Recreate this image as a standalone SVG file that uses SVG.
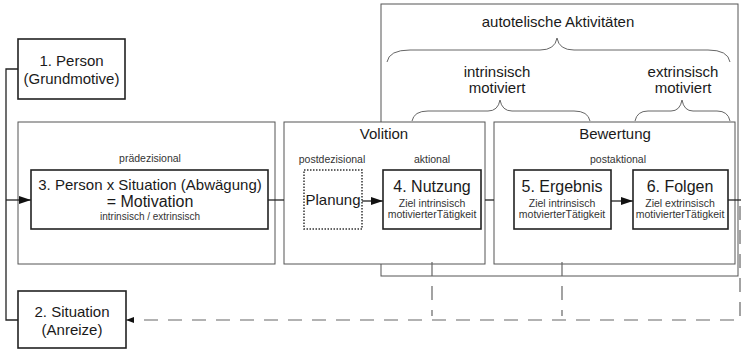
<svg xmlns="http://www.w3.org/2000/svg" width="741" height="350" viewBox="0 0 741 350">
  <style>
    text { font-family: "Liberation Sans", Arial, sans-serif; fill: #1a1a1a; text-anchor: middle; }
    .t15 { font-size: 15px; }
    .t16 { font-size: 16px; }
    .t10 { font-size: 10.5px; fill: #333; }
    .t10s { font-size: 10px; fill: #333; }
    .phase { fill: #fff; stroke: #555; stroke-width: 1; }
    .box { fill: #fff; stroke: #222; stroke-width: 1.6; }
    .dotted { fill: #fff; stroke: #333; stroke-width: 1.5; stroke-dasharray: 1.5 1.5; }
    .frame { fill: none; stroke: #555; stroke-width: 1; }
    .brace { fill: none; stroke: #666; stroke-width: 1; }
    .line { fill: none; stroke: #222; stroke-width: 1.3; }
    .dash { fill: none; stroke: #666; stroke-width: 1.2; stroke-dasharray: 14 10; }
  </style>
  <defs>
    <marker id="arrow" viewBox="0 0 12 8" refX="12" refY="4" markerWidth="12" markerHeight="8" markerUnits="userSpaceOnUse" orient="auto">
      <path d="M0,0 L12,4 L0,8 Z" fill="#111"/>
    </marker>
    <marker id="arrowSmall" viewBox="0 0 8 6" refX="8" refY="3" markerWidth="8" markerHeight="6" markerUnits="userSpaceOnUse" orient="auto">
      <path d="M0,0 L8,3 L0,6 Z" fill="#111"/>
    </marker>
  </defs>

  <!-- frame: autotelic activities with braces -->
  <g id="autotelisch">
    <rect class="frame" x="381" y="4" width="357" height="272"/>
    <text class="t15" x="558" y="27">autotelische Aktivitäten</text>
    <path class="brace" d="M387,62 Q389,50 410,50 L540,50 Q555,50 557,38 Q559,50 574,50 L708,50 Q728,50 730,62"/>
    <text class="t15" x="497" y="77">intrinsisch</text>
    <text class="t15" x="497" y="93">motiviert</text>
    <path class="brace" d="M412,121 Q414,111 428,111 L488,111 Q498,111 500,100 Q502,111 512,111 L574,111 Q588,111 590,121"/>
    <text class="t15" x="683" y="77">extrinsisch</text>
    <text class="t15" x="683" y="93">motiviert</text>
    <path class="brace" d="M635,121 Q637,111 648,111 L671,111 Q680,111 682,100 Q684,111 693,111 L717,111 Q728,111 730,121"/>
  </g>

  <!-- phases -->
  <g id="praedezisional">
    <rect class="phase" x="18" y="122" width="257" height="142"/>
    <text class="t10" x="150" y="162">prädezisional</text>
  </g>
  <g id="volition">
    <rect class="phase" x="284" y="122" width="201" height="142"/>
    <text class="t15" x="384" y="139">Volition</text>
    <text class="t10" x="332" y="163">postdezisional</text>
    <text class="t10" x="432" y="163">aktional</text>
  </g>
  <g id="bewertung">
    <rect class="phase" x="494" y="122" width="241" height="142"/>
    <text class="t15" x="615" y="139">Bewertung</text>
    <text class="t10" x="618" y="163">postaktional</text>
  </g>

  <!-- connectors -->
  <g id="connectors">
    <path class="line" d="M18,69 H6 V320 H18"/>
    <path class="line" d="M6,200 H31" marker-end="url(#arrow)"/>
    <path class="line" d="M268,200 H284"/>
    <path class="line" d="M485,200 H494"/>
    <path class="line" d="M728,200 H741"/>
    <path class="line" d="M362,201 H383" marker-end="url(#arrow)"/>
    <path class="line" d="M611,201 H633" marker-end="url(#arrow)"/>
    <path class="dash" d="M740,206 V320 H126" marker-end="url(#arrowSmall)"/>
    <path class="dash" d="M432,262 V316" stroke-dasharray="14 6"/>
    <path class="dash" d="M562,262 V316" stroke-dasharray="14 6"/>
  </g>

  <!-- activity boxes -->
  <g id="abwaegung">
    <rect class="box" x="31" y="170" width="237" height="59"/>
    <text class="t15" x="150" y="190">3. Person x Situation (Abwägung)</text>
    <text class="t16" x="150" y="207">= Motivation</text>
    <text class="t10s" x="150" y="220">intrinsisch / extrinsisch</text>
  </g>
  <g id="planung">
    <rect class="dotted" x="304" y="170" width="58" height="59"/>
    <text class="t15" x="333" y="205">Planung</text>
  </g>
  <g id="nutzung">
    <rect class="box" x="383" y="170" width="98" height="59"/>
    <text class="t16" x="432" y="192">4. Nutzung</text>
    <text class="t10" x="432" y="207">Ziel intrinsisch</text>
    <text class="t10" x="432" y="218">motivierterTätigkeit</text>
  </g>
  <g id="ergebnis">
    <rect class="box" x="514" y="170" width="97" height="59"/>
    <text class="t16" x="562" y="192">5. Ergebnis</text>
    <text class="t10" x="562" y="207">Ziel intrinsisch</text>
    <text class="t10" x="562" y="218">motvierterTätigkeit</text>
  </g>
  <g id="folgen">
    <rect class="box" x="633" y="170" width="95" height="59"/>
    <text class="t16" x="680" y="192">6. Folgen</text>
    <text class="t10" x="680" y="207">Ziel extrinsisch</text>
    <text class="t10" x="680" y="218">motivierterTätigkeit</text>
  </g>

  <!-- sources -->
  <g id="person">
    <rect class="box" x="18" y="39" width="107" height="60"/>
    <text class="t15" x="71.5" y="66">1. Person</text>
    <text class="t15" x="71.5" y="84">(Grundmotive)</text>
  </g>
  <g id="situation">
    <rect class="box" x="18" y="291" width="108" height="57"/>
    <text class="t15" x="72" y="317">2. Situation</text>
    <text class="t15" x="72" y="335">(Anreize)</text>
  </g>
</svg>
